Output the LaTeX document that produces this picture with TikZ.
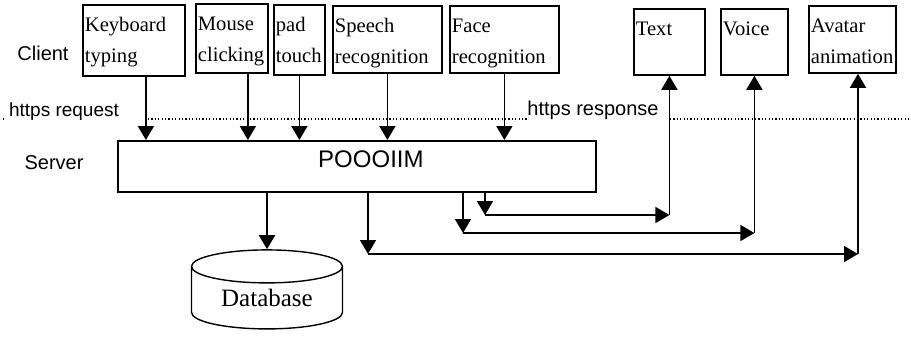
\documentclass[tikz,border=0pt]{standalone}
\usepackage{fontspec}
\setmainfont{Liberation Serif}
\setsansfont{Liberation Sans}
\usetikzlibrary{arrows.meta,shapes.geometric}

% text in a box: top aligned, fixed size
\newcommand{\inbox}[3]{\parbox[t][#2][t]{#1}{\raggedright\rule{0pt}{13.5pt}#3}}

\tikzset{
  dev/.style={draw, line width=0.9pt, inner xsep=1pt, inner ysep=0pt,
    anchor=north west, font=\fontsize{10.3}{15.5}\selectfont},
  tag/.style={font=\sffamily\fontsize{10}{12}\selectfont},
  flow/.style={->, line width=0.85pt},
  sep/.style={line width=0.6pt, dash pattern=on 0.6pt off 1.1pt},
}

\begin{document}
\begin{tikzpicture}[x=0.5pt, y=-0.5pt, >={Triangle[length=7pt,width=8pt]}]

    \useasboundingbox (0,0) rectangle (911,338);

    % client devices
    \node[dev] (kbd) at (82,4) {\inbox{49pt}{35.5pt}{Keyboard\\typing}};
    \node[dev] (mouse) at (195,3) {\inbox{34pt}{34.5pt}{Mouse\\clicking}};
    \node[dev] (pad) at (273,4) {\inbox{23.5pt}{35pt}{pad\\touch}};
    \node[dev] (speech) at (332,5) {\inbox{52.5pt}{33.5pt}{Speech\\recognition}};
    \node[dev] (face) at (449,5) {\inbox{52.5pt}{33.5pt}{Face\\recognition}};

    % outputs
    \node[dev] (txt) at (633,8) {\inbox{33.5pt}{33pt}{Text}};
    \node[dev] (voice) at (720,8) {\inbox{31.5pt}{33pt}{Voice}};
    \node[dev] (avatar) at (808,5) {\inbox{41.5pt}{33.5pt}{Avatar\\animation}};

    % server
    \node[draw, line width=0.9pt, inner sep=0pt, anchor=north west,
          minimum width=239pt, minimum height=25.5pt] (poim) at (117,140) {};
    \node[tag, font=\sffamily\fontsize{12}{14}\selectfont] (poimlbl)
          at ([xshift=7pt,yshift=3.5pt]poim.center) {POOOIIM};

    % storage
    \node[cylinder, shape border rotate=90, draw, line width=0.7pt, aspect=0.36,
          minimum width=75.5pt, minimum height=39.5pt, inner sep=0pt,
          font=\fontsize{12.5}{15}\selectfont] (db) at (267,298) {Database};

    % Labels
    \node[tag] (client) at (43,53) {Client};
    \node[tag] (server) at (54,163) {Server};
    \node[tag, font=\sffamily\fontsize{9.5}{11}\selectfont] (req) at (64,112) {https request};
    \node[tag] (resp) at (593,110) {https response};

    % border client / server
    \draw[sep] (3,119) -- (5,119);
    \draw[sep] (148,119) -- (527,119);
    \draw[sep] (670,119) -- (911,119);

    % requests
    \draw[flow] ([xshift=6pt]kbd.south) -- ([xshift=6pt]kbd.south |- poim.north);
    \draw[flow] ([xshift=8pt]mouse.south) -- ([xshift=8pt]mouse.south |- poim.north);
    \draw[flow] (pad.south) -- (pad.south |- poim.north);
    \draw[flow] (speech.south) -- (speech.south |- poim.north);
    \draw[flow] (face.south) -- (face.south |- poim.north);

    % database
    \draw[flow] (db.north |- poim.south) -- (db.north);

    % responses
    \coordinate (c1) at (368,254);
    \coordinate (c2) at (463,233);
    \coordinate (c3) at (485,215);
    \coordinate (a1) at (858,254);
    %% avatar
    \draw[flow] (c1 |- poim.south) -- (c1);
    \draw[flow] (c1) -- (a1);
    \draw[flow] (a1) -- (a1 |- avatar.south);
    %% voice
    \draw[flow] (c2 |- poim.south) -- (c2);
    \draw[flow] (c2) -- (voice.south |- c2);
    \draw[flow] (voice.south |- c2) -- (voice.south);
    %% text
    \draw[flow] (c3 |- poim.south) -- (c3);
    \draw[flow] (c3) -- (txt.south |- c3);
    \draw[flow] (txt.south |- c3) -- (txt.south);

\end{tikzpicture}
\end{document}
